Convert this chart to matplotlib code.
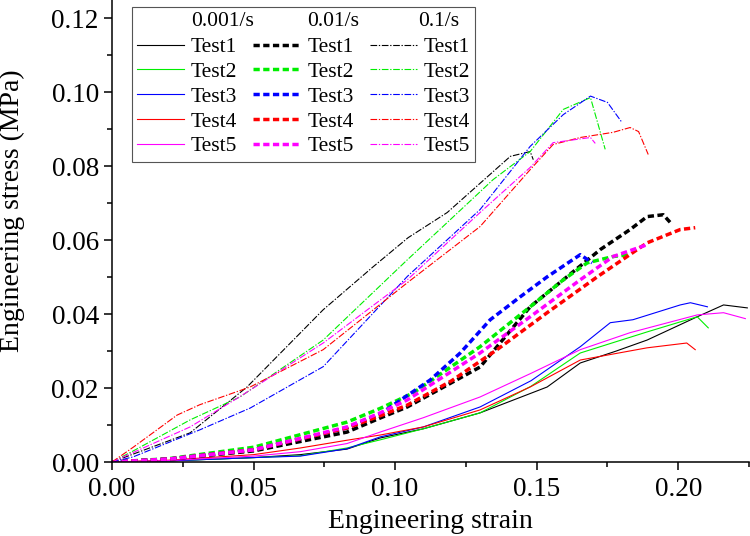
import numpy as np
import matplotlib
matplotlib.use("Agg")
import matplotlib.pyplot as plt
from matplotlib.lines import Line2D
from matplotlib.ticker import MultipleLocator, FormatStrFormatter

plt.rcParams['font.family'] = ['Liberation Serif', 'DejaVu Serif']

# ---- 0.001/s (solid) ----
a_t1_x = [0, 0.02, 0.05, 0.0665, 0.083, 0.0947, 0.11, 0.13, 0.1537, 0.1654, 0.178, 0.189, 0.2067, 0.216, 0.2244]
a_t1_y = [0, 0.0003, 0.0012, 0.002, 0.0035, 0.0065, 0.009, 0.0133, 0.0203, 0.0268, 0.030, 0.033, 0.0393, 0.0425, 0.0417]
a_t2_x = [0, 0.02, 0.05, 0.0665, 0.083, 0.0947, 0.11, 0.13, 0.148, 0.1654, 0.189, 0.2067, 0.2106]
a_t2_y = [0, 0.0003, 0.0012, 0.0017, 0.0038, 0.006, 0.009, 0.0133, 0.0205, 0.0295, 0.0352, 0.0393, 0.0363]
a_t3_x = [0, 0.02, 0.05, 0.0665, 0.083, 0.0947, 0.11, 0.13, 0.148, 0.1654, 0.176, 0.184, 0.2007, 0.2043, 0.2103]
a_t3_y = [0, 0.0003, 0.0012, 0.0016, 0.0036, 0.0068, 0.0095, 0.0149, 0.022, 0.0312, 0.0377, 0.0385, 0.0425, 0.0431, 0.042]
a_t4_x = [0, 0.02, 0.05, 0.0665, 0.083, 0.0947, 0.11, 0.13, 0.1477, 0.1654, 0.189, 0.203, 0.206]
a_t4_y = [0, 0.0005, 0.002, 0.0038, 0.0059, 0.0073, 0.0095, 0.0141, 0.0203, 0.0276, 0.0309, 0.0322, 0.0304]
a_t5_x = [0, 0.02, 0.05, 0.0665, 0.083, 0.0947, 0.11, 0.13, 0.148, 0.1654, 0.183, 0.2067, 0.216, 0.2237]
a_t5_y = [0, 0.0004, 0.0016, 0.0028, 0.005, 0.0081, 0.012, 0.0176, 0.024, 0.0304, 0.035, 0.0398, 0.0404, 0.0388]

# ---- 0.01/s (thick dashed) ----
b_t1_x = [0, 0.02, 0.05, 0.083, 0.0947, 0.1043, 0.13, 0.1477, 0.1594, 0.1725, 0.183, 0.189, 0.1947, 0.1979]
b_t1_y = [0, 0.0008, 0.003, 0.0081, 0.0119, 0.0149, 0.0257, 0.042, 0.0493, 0.0575, 0.0629, 0.0664, 0.0669, 0.0642]
b_t2_x = [0, 0.02, 0.05, 0.083, 0.0947, 0.1064, 0.13, 0.1477, 0.1594, 0.1679, 0.177, 0.1824]
b_t2_y = [0, 0.0009, 0.004, 0.0108, 0.0145, 0.0187, 0.0312, 0.042, 0.0493, 0.0539, 0.0556, 0.0561]
b_t3_x = [0, 0.02, 0.05, 0.083, 0.0947, 0.1124, 0.123, 0.1336, 0.1442, 0.1537, 0.1654, 0.1696]
b_t3_y = [0, 0.0008, 0.0033, 0.0092, 0.013, 0.0222, 0.0295, 0.0385, 0.0447, 0.0501, 0.0561, 0.0539]
b_t4_x = [0, 0.02, 0.05, 0.083, 0.0947, 0.1043, 0.12, 0.136, 0.1537, 0.1714, 0.189, 0.2007, 0.206]
b_t4_y = [0, 0.0008, 0.0033, 0.0092, 0.0125, 0.0154, 0.022, 0.0304, 0.0404, 0.0501, 0.0593, 0.0629, 0.0634]
b_t5_x = [0, 0.02, 0.05, 0.083, 0.0947, 0.1043, 0.13, 0.1477, 0.1654, 0.177, 0.189]
b_t5_y = [0, 0.0008, 0.0033, 0.0095, 0.0133, 0.0168, 0.0295, 0.0393, 0.0493, 0.0556, 0.0588]

# ---- 0.1/s (thin dash-dot) ----
c_t1_x = [0, 0.0276, 0.0477, 0.0746, 0.0922, 0.1046, 0.1184, 0.1407, 0.1477, 0.1488]
c_t1_y = [0, 0.0079, 0.0203, 0.0412, 0.0528, 0.0607, 0.0675, 0.0827, 0.084, 0.0818]
c_t2_x = [0, 0.0075, 0.0276, 0.0452, 0.0746, 0.1043, 0.1346, 0.1477, 0.1594, 0.169, 0.1742]
c_t2_y = [0, 0.003, 0.0114, 0.0176, 0.033, 0.0547, 0.0764, 0.084, 0.0954, 0.0986, 0.0846]
c_t3_x = [0, 0.0075, 0.031, 0.0488, 0.0746, 0.1043, 0.130, 0.1477, 0.1594, 0.169, 0.175, 0.180]
c_t3_y = [0, 0.0014, 0.0087, 0.0146, 0.0258, 0.0502, 0.0683, 0.0854, 0.094, 0.099, 0.0973, 0.092]
c_t4_x = [0, 0.0075, 0.023, 0.031, 0.0488, 0.0746, 0.1043, 0.130, 0.1477, 0.1558, 0.1654, 0.177, 0.183, 0.186, 0.1894]
c_t4_y = [0, 0.004, 0.0127, 0.0155, 0.0203, 0.0304, 0.0485, 0.0637, 0.0791, 0.0859, 0.0878, 0.0892, 0.0905, 0.0894, 0.0832]
c_t5_x = [0, 0.0276, 0.045, 0.0746, 0.1043, 0.130, 0.1477, 0.1558, 0.169, 0.1707]
c_t5_y = [0, 0.0095, 0.0176, 0.0322, 0.0493, 0.0675, 0.0797, 0.0864, 0.0878, 0.0862]

rates = ['0.001/s', '0.01/s', '0.1/s']
tests = ['Test1', 'Test2', 'Test3', 'Test4', 'Test5']
colors = ['black', '#00ee00', '#0000ff', '#ff0000', '#ff00ff']

groups = [
    [(a_t1_x, a_t1_y), (a_t2_x, a_t2_y), (a_t3_x, a_t3_y), (a_t4_x, a_t4_y), (a_t5_x, a_t5_y)],
    [(b_t1_x, b_t1_y), (b_t2_x, b_t2_y), (b_t3_x, b_t3_y), (b_t4_x, b_t4_y), (b_t5_x, b_t5_y)],
    [(c_t1_x, c_t1_y), (c_t2_x, c_t2_y), (c_t3_x, c_t3_y), (c_t4_x, c_t4_y), (c_t5_x, c_t5_y)],
]
styles = [
    dict(linestyle='-', linewidth=0.8),
    dict(linestyle=(0, (1.8, 1.0)), linewidth=2.5),
    dict(linestyle=(0, (6, 1.5, 1.2, 1.5)), linewidth=0.8),
]

fig = plt.figure(figsize=(7.5, 5.36), dpi=100)
ax = fig.add_axes([0.1493, 0.138, 0.8494, 0.862])

handles = []
labels = []
for g, st in zip(groups, styles):
    # blank row, the rate header is written over it below
    handles.append(Line2D([], [], color='none'))
    labels.append(' ')
    for (x, y), c, t in zip(g, colors, tests):
        ln, = ax.plot(x, y, color=c, **st)
        handles.append(ln)
        labels.append(t)

ax.set_xlim(0, 0.225)
ax.set_ylim(0, 0.125)
ax.xaxis.set_major_locator(MultipleLocator(0.05))
ax.xaxis.set_minor_locator(MultipleLocator(0.025))
ax.yaxis.set_major_locator(MultipleLocator(0.02))
ax.yaxis.set_minor_locator(MultipleLocator(0.01))
ax.xaxis.set_major_formatter(FormatStrFormatter('%.2f'))
ax.yaxis.set_major_formatter(FormatStrFormatter('%.2f'))
ax.tick_params(which='major', direction='out', length=6, width=1.1, labelsize=19.5)
ax.tick_params(axis='x', which='major', pad=5)
ax.tick_params(which='minor', direction='out', length=3.5, width=1.1)
for s in ['top', 'right']:
    ax.spines[s].set_visible(False)
for s in ['left', 'bottom']:
    ax.spines[s].set_linewidth(1.1)

ax.set_xlabel('Engineering strain', fontsize=20, labelpad=5)
ax.set_ylabel('Engineering stress (MPa)', fontsize=20)
ax.yaxis.set_label_coords(-0.137, 0.545)

leg = ax.legend(handles, labels, ncol=3, loc='upper left', bbox_to_anchor=(0.031, 0.985),
                fontsize=15.5, handlelength=2.2, handletextpad=0.3, columnspacing=0.75,
                labelspacing=0.22, borderpad=0.25, borderaxespad=0, fancybox=False, framealpha=1)
leg.get_frame().set_edgecolor('#555555')
leg.get_frame().set_linewidth(0.8)

texts = leg.get_texts()
for k, (rate, dx) in enumerate(zip(rates, [0, 0, -4])):
    ax.annotate(rate, xy=(0, 0.5), xycoords=texts[6 * k + 1], xytext=(dx, 18.7),
                textcoords='offset points', ha='left', va='center', fontsize=15.5,
                annotation_clip=False, zorder=10)

fig.savefig('out.png', dpi=100)
